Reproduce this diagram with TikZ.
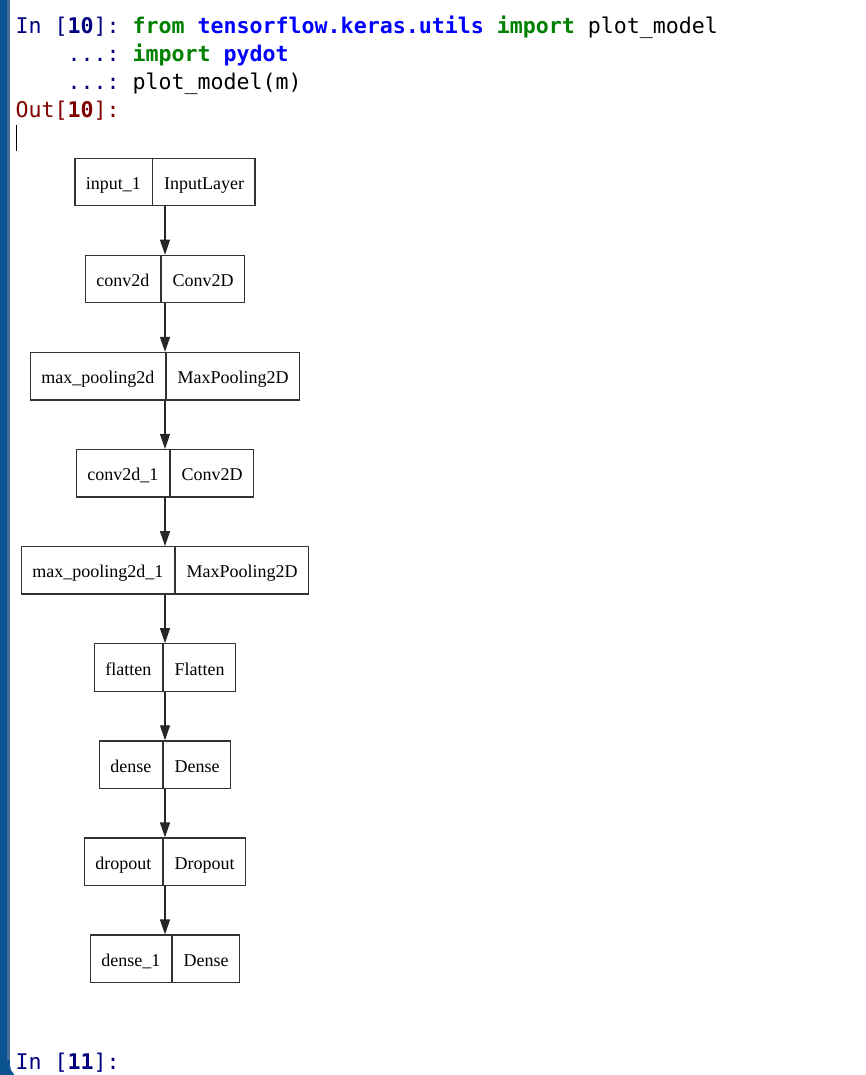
\documentclass[tikz,border=0pt]{standalone}
\usepackage{fontspec}
\usepackage{xcolor}
\newfontfamily\codefont{DejaVu Sans Mono}
\newfontfamily\layerfont{Liberation Serif}
\definecolor{promptblue}{RGB}{0,0,128}
\definecolor{kwgreen}{RGB}{0,128,0}
\definecolor{modblue}{RGB}{0,0,255}
\definecolor{outred}{RGB}{128,0,0}
\definecolor{barblue}{RGB}{12,84,145}
\definecolor{baredge}{RGB}{70,110,155}
\usepackage{tikz}
\usetikzlibrary{positioning}
\usetikzlibrary{arrows.meta}
\usetikzlibrary{chains,shapes}
\newcommand{\layerstrut}{\rule[-5pt]{0pt}{25pt}}

\begin{document}
\begin{tikzpicture}[x=1pt,y=-1pt,line width=1.3pt,
  layer/.style={rectangle split,rectangle split horizontal,rectangle split parts=2,draw=black!80,
    inner xsep=11pt,inner ysep=11.2pt,font=\layerfont\fontsize{18}{21.6}\selectfont},
  code/.style={anchor=base west,inner sep=0pt,font=\codefont\fontsize{21.6}{26}\selectfont\frenchspacing},
  flow/.style={draw=black!85,-{Triangle[length=15pt,width=10pt]}}]

\useasboundingbox (0,0) rectangle (866,1075);

% console frame
\fill[barblue] (0,-20) rectangle (14,1095);
\fill[baredge] (7,-20) rectangle (10,1060);
\fill[white,rounded corners=12pt] (10,-40) rectangle (900,1077);

% console text
\node[code] (in10) at (15,34) {{\color{promptblue}In [\textbf{10}]:} {\color{kwgreen}\textbf{from}} {\color{modblue}\textbf{tensorflow.keras.utils}} {\color{kwgreen}\textbf{import}} plot\_model};
\node[code] (cont1) at (67,62) {{\color{promptblue}...:} {\color{kwgreen}\textbf{import}} {\color{modblue}\textbf{pydot}}};
\node[code] (cont2) at (67,90) {{\color{promptblue}...:} plot\_model(m)};
\node[code] (out10) at (15,118) {\color{outred}Out[\textbf{10}]:};
\draw[line width=1pt] (16,125) -- (16,151);
\node[code] (in11) at (15,1069) {\color{promptblue}In [\textbf{11}]:};

% model graph
\begin{scope}[shift={(165,182)},start chain=going below,node distance=48.4pt]
\foreach \name/\type [count=\i] in {input\_1/InputLayer,conv2d/Conv2D,max\_pooling2d/MaxPooling2D,
    conv2d\_1/Conv2D,max\_pooling2d\_1/MaxPooling2D,flatten/Flatten,dense/Dense,dropout/Dropout,dense\_1/Dense}
  \node[layer,on chain] (l\i) {\layerstrut\name\nodepart{two}\layerstrut\type};
\end{scope}

\draw[flow] (l1) -- (l2);
\draw[flow] (l2) -- (l3);
\draw[flow] (l3) -- (l4);
\draw[flow] (l4) -- (l5);
\draw[flow] (l5) -- (l6);
\draw[flow] (l6) -- (l7);
\draw[flow] (l7) -- (l8);
\draw[flow] (l8) -- (l9);
\end{tikzpicture}
\end{document}
